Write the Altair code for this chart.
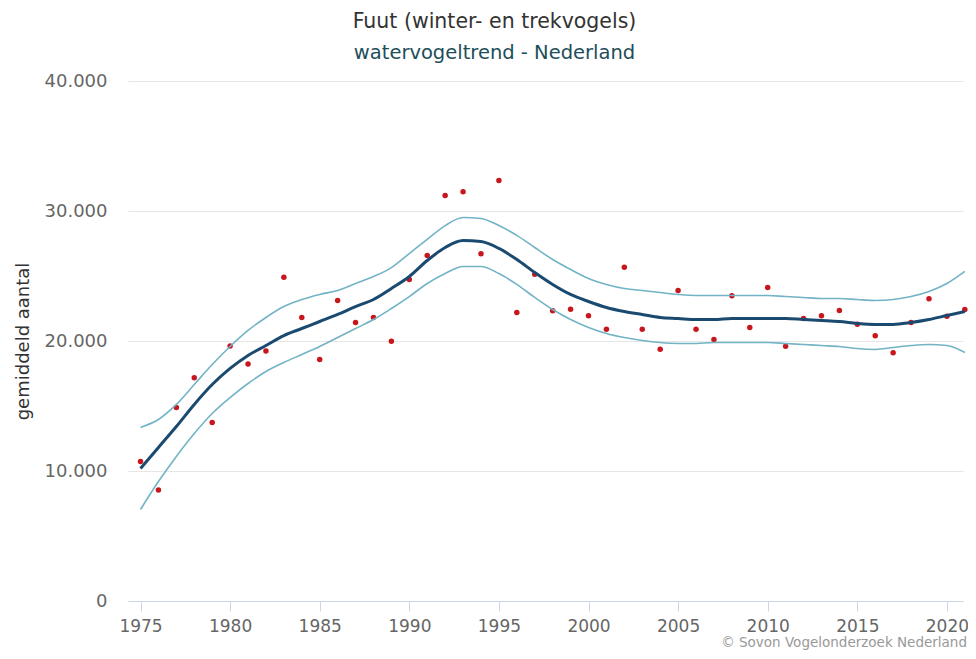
import altair as alt
import pandas as pd

years = list(range(1975, 2022))

counts = [10730, 8540, 14880, 17170, 13730, 19620, 18230, 19230, 24910, 21810,
          18580, 23120, 21420, 21810, 19980, 24730, 26580, 31190, 31480, 26710,
          32350, 22190, 25140, 22320, 22450, 21940, 20910, 25680, 20910, 19370,
          23880, 20910, 20120, 23480, 21040, 24120, 19600, 21730, 21940, 22350,
          21290, 20400, 19090, 21420, 23250, 21910, 22420]

trend = [10190, 11810, 13420, 15120, 16650, 17890, 18890, 19650, 20420, 20960,
         21500, 22040, 22650, 23190, 24040, 24960, 26190, 27190, 27730, 27650,
         27120, 26270, 25270, 24350, 23580, 23040, 22580, 22270, 22040, 21810,
         21730, 21650, 21650, 21730, 21730, 21730, 21730, 21650, 21580, 21500,
         21350, 21270, 21270, 21420, 21650, 21960, 22270]

upper = [13350, 13960, 15120, 16650, 18190, 19580, 20810, 21810, 22650, 23190,
         23580, 23880, 24420, 24960, 25650, 26730, 27810, 28880, 29500, 29420,
         28880, 28120, 27190, 26270, 25500, 24810, 24350, 24040, 23880, 23730,
         23580, 23500, 23500, 23500, 23500, 23500, 23420, 23350, 23270, 23270,
         23190, 23120, 23190, 23420, 23810, 24420, 25350]

lower = [7040, 9190, 11120, 12880, 14420, 15650, 16730, 17650, 18350, 18960,
         19580, 20270, 20960, 21650, 22500, 23420, 24420, 25190, 25730, 25730,
         25190, 24350, 23350, 22420, 21650, 21040, 20580, 20270, 20040, 19880,
         19810, 19810, 19880, 19880, 19880, 19880, 19810, 19730, 19650, 19580,
         19420, 19350, 19500, 19650, 19730, 19650, 19120]

x_ticks = [1975, 1980, 1985, 1990, 1995, 2000, 2005, 2010, 2015, 2020]
y_ticks = [0, 10000, 20000, 30000, 40000]

title_text = "Fuut (winter- en trekvogels)"
subtitle_text = "watervogeltrend - Nederland"
y_title = "gemiddeld aantal"
credits = "© Sovon Vogelonderzoek Nederland"

FONT = "DejaVu Sans"

df = pd.DataFrame({"jaar": years, "aantal": counts, "trend": trend,
                   "boven": upper, "onder": lower})
bounds = pd.concat([
    pd.DataFrame({"jaar": years, "waarde": upper, "reeks": "boven"}),
    pd.DataFrame({"jaar": years, "waarde": lower, "reeks": "onder"}),
])

xscale = alt.Scale(domain=[1974.302, 2020.898], nice=False, zero=False)
yscale = alt.Scale(domain=[0, 40000], nice=False)

xaxis = alt.Axis(values=x_ticks, format="d", title=None, grid=False,
                 domainColor="#ccd6eb", tickColor="#ccd6eb", tickSize=10,
                 labelFont=FONT, labelFontSize=17, labelColor="#666666",
                 labelPadding=7, labelFlush=False)
yaxis = alt.Axis(values=y_ticks, title=y_title, domain=False, ticks=False,
                 gridColor="#e6e6e6", labelFont=FONT, labelFontSize=18,
                 labelColor="#666666", labelPadding=21,
                 labelExpr="replace(format(datum.value, ','), ',', '.')",
                 titleFont=FONT, titleFontSize=18, titleColor="#333333",
                 titleFontWeight="normal", titleX=-105, titleY=260,
                 titleAngle=270, titleAlign="center", titleBaseline="middle")

base = alt.Chart(df)

grid = base.mark_point(opacity=0).encode(
    x=alt.X("jaar:Q", scale=xscale, axis=xaxis),
    y=alt.Y("aantal:Q", scale=yscale, axis=yaxis),
)

points = base.mark_circle(size=30, color="#c8161d", opacity=1).encode(
    x=alt.X("jaar:Q", scale=xscale, axis=xaxis),
    y=alt.Y("aantal:Q", scale=yscale, axis=yaxis),
)

band_lines = alt.Chart(bounds).mark_line(
    color="#72b3c6", strokeWidth=1.6, interpolate="monotone"
).encode(
    x=alt.X("jaar:Q", scale=xscale, axis=xaxis),
    y=alt.Y("waarde:Q", scale=yscale, axis=yaxis),
    detail="reeks:N",
)

trend_line = base.mark_line(
    color="#1a4a70", strokeWidth=3, interpolate="monotone"
).encode(
    x=alt.X("jaar:Q", scale=xscale, axis=xaxis),
    y=alt.Y("trend:Q", scale=yscale, axis=yaxis),
)

credit_text = alt.Chart(pd.DataFrame({"t": [credits]})).mark_text(
    align="right", baseline="alphabetic", font=FONT, fontSize=13.5,
    color="#999999"
).encode(x=alt.value(839), y=alt.value(566), text="t:N")

chart = alt.layer(grid, points, band_lines, trend_line, credit_text).properties(
    width=835,
    height=520,
    padding={"left": 120, "top": 73, "right": 5, "bottom": 50},
    autosize=alt.AutoSizeParams(type="none"),
    title=alt.TitleParams(
        text=title_text, subtitle=subtitle_text, anchor="middle", frame="group",
        dx=-51, offset=10, font=FONT, fontSize=20.5, fontWeight="normal",
        color="#333333", subtitleFont=FONT, subtitleFontSize=19.5,
        subtitleColor="#1d4e5a", subtitlePadding=11,
    ),
).configure_view(stroke="white", strokeOpacity=0, strokeWidth=0).configure_axisX(
    grid=False
).configure(
    background="white",
    style={"cell": {"stroke": "transparent", "strokeWidth": 0}},
)

chart.save("out.html", embed_options={"renderer": "svg", "actions": False})
